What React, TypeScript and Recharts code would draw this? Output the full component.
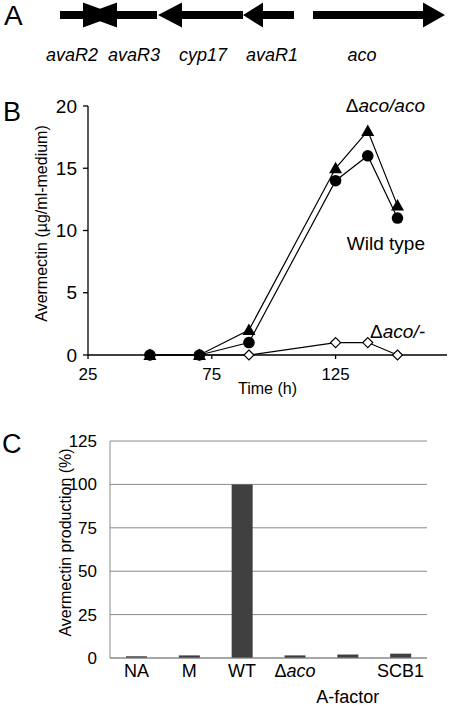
import React from "react"
import { BarChart, Bar, LineChart, Line, XAxis, YAxis, CartesianGrid, Label } from "recharts"

const FONT = '"Liberation Sans", Arial, Helvetica, sans-serif'

// A: gene map, map units along the cluster
const geneNames = ["avaR2", "avaR3", "cyp17", "avaR1", "aco"]
const geneStart = [4, 27, 102, 187, 257]
const geneEnd = [61, 101, 187, 238, 389]
const geneStrand = [1, -1, -1, -1, 1]
const geneLabelPos = [16, 78, 147, 216, 306]

// B: avermectin over time
const hours = [50, 70, 90, 125, 138, 150]
const wildType = [0, 0, 1, 14, 16, 11]
const acoComp = [0, 0, 2, 15, 18, 12]
const acoNull = [0, 0, 0, 1, 1, 0]
const timeTicks = [25, 75, 125]
const avmTicks = [0, 5, 10, 15, 20]

// C: relative production
const strains = ["NA", "M", "WT", "Δaco", "A-factor", "SCB1"]
const production = [1, 1.5, 100, 1.5, 2, 2.5]
const pctTicks = [0, 25, 50, 75, 100, 125]

const headLen = [34, 34, 24, 20, 22]

const mapRow: any = { row: "map" }
geneNames.forEach((g, i) => { mapRow[g] = [geneStart[i], geneEnd[i]] })

const growth = hours.map((h, i) => ({ h, wt: wildType[i], comp: acoComp[i], nul: acoNull[i] }))
const prodData = strains.map((s, i) => ({ s, v: production[i] }))

const arrowShape = (i: number) => (p: any) => {
  const { x, y, width, height } = p
  const cy = y + height / 2
  const left = Math.min(x, x + width)
  const right = Math.max(x, x + width)
  const h = headLen[i], hw = 12.5, sw = 4
  let pts: number[][]
  if (geneStrand[i] > 0) {
    const b = right - h
    pts = [[left, cy - sw], [b, cy - sw], [b, cy - hw], [right, cy], [b, cy + hw], [b, cy + sw], [left, cy + sw]]
  } else {
    const b = left + h
    pts = [[right, cy - sw], [b, cy - sw], [b, cy - hw], [left, cy], [b, cy + hw], [b, cy + sw], [right, cy + sw]]
  }
  return <polygon points={pts.map((q) => q.join(",")).join(" ")} fill="#000" />
}

const GeneTick = (p: any) => {
  const name = geneNames[geneLabelPos.indexOf(p.payload.value)]
  return (
    <text x={p.x} y={p.y + 34} textAnchor="middle" fontSize={18} fontStyle="italic" fill="#000" fontFamily={FONT}>
      {name}
    </text>
  )
}

const StrainTick = (p: any) => {
  const v = p.payload.value as string
  const low = v === "A-factor"
  return (
    <text x={p.x} y={p.y + (low ? 45 : 19)} textAnchor="middle" fontSize={18} fill="#000" fontFamily={FONT}>
      {v.startsWith("Δ") ? (
        <>
          <tspan>Δ</tspan>
          <tspan fontStyle="italic">{v.slice(1)}</tspan>
        </>
      ) : v}
    </text>
  )
}

const circleDot = (p: any) => <circle key={p.index} cx={p.cx} cy={p.cy} r={5.8} fill="#000" />
const triDot = (p: any) => (
  <polygon key={p.index} points={`${p.cx},${p.cy - 6.5} ${p.cx + 6.5},${p.cy + 5} ${p.cx - 6.5},${p.cy + 5}`} fill="#000" />
)
const diaDot = (p: any) => (
  <polygon key={p.index} points={`${p.cx},${p.cy - 5} ${p.cx + 5},${p.cy} ${p.cx},${p.cy + 5} ${p.cx - 5},${p.cy}`} fill="#fff" stroke="#000" strokeWidth={1.2} />
)

const axisB = { stroke: "#000", strokeWidth: 1.3 }
const gray = "#8a8a8a"

export default function App() {
  return (
    <div style={{ position: "absolute", left: 0, top: 0, width: 450, height: 706, overflow: "hidden", fontFamily: FONT, background: "#fff" }}>
      <div style={{ position: "absolute", left: 0, top: 0 }}>
        <BarChart layout="vertical" width={450} height={70} data={[mapRow]} margin={{ top: 3, right: 4, bottom: 0, left: 56 }}>
          <XAxis type="number" domain={[0, 390]} ticks={geneLabelPos} interval={0} height={43} axisLine={false} tickLine={false} tickSize={0} tickMargin={0} tick={<GeneTick />} />
          {geneNames.map((g) => (
            <YAxis key={g} yAxisId={g} type="category" dataKey="row" hide />
          ))}
          {geneNames.map((g, i) => (
            <Bar key={g} yAxisId={g} dataKey={g} barSize={8} shape={arrowShape(i)} isAnimationActive={false} />
          ))}
        </BarChart>
      </div>

      <div style={{ position: "absolute", left: 0, top: 70 }}>
        <LineChart width={450} height={340} data={growth} margin={{ top: 36, right: 3, bottom: 0, left: 28 }}>
          <XAxis dataKey="h" type="number" domain={[25, 170]} ticks={timeTicks} height={55} axisLine={axisB} tickLine={axisB} tickSize={4} tickMargin={9} tick={{ fill: "#000", fontSize: 17 }}>
            <Label value="Time (h)" position="insideBottom" offset={16} fontSize={16} fill="#000" />
          </XAxis>
          <YAxis domain={[0, 20]} ticks={avmTicks} width={60} axisLine={axisB} tickLine={axisB} tickSize={5} tickMargin={6} tick={{ fill: "#000", fontSize: 19 }}>
            <Label value="Avermectin (µg/ml-medium)" angle={-90} position="center" dx={-17} dy={-7} fontSize={16} fill="#000" />
          </YAxis>
          <Line dataKey="nul" stroke="#000" strokeWidth={1.2} dot={diaDot} isAnimationActive={false} />
          <Line dataKey="comp" stroke="#000" strokeWidth={1.2} dot={triDot} isAnimationActive={false} />
          <Line dataKey="wt" stroke="#000" strokeWidth={1.2} dot={circleDot} isAnimationActive={false} />
        </LineChart>
      </div>

      <div style={{ position: "absolute", left: 0, top: 420 }}>
        <BarChart width={450} height={286} data={prodData} margin={{ top: 21, right: 23, bottom: 0, left: 50 }} barSize={21}>
          <CartesianGrid vertical={false} stroke={gray} />
          <XAxis dataKey="s" height={48} interval={0} axisLine={{ stroke: gray }} tickLine={false} tickSize={0} tickMargin={0} tick={<StrainTick />} />
          <YAxis domain={[0, 125]} ticks={pctTicks} width={60} axisLine={{ stroke: gray }} tickLine={false} tickMargin={7} tick={{ fill: "#000", fontSize: 17 }}>
            <Label value="Avermectin production (%)" angle={-90} position="center" dx={-15} dy={-7} fontSize={16} fill="#000" />
          </YAxis>
          <YAxis yAxisId="frame" orientation="right" domain={[0, 125]} width={0} tick={false} tickLine={false} axisLine={{ stroke: gray }} />
          <Bar dataKey="v" fill="#404040" isAnimationActive={false} />
        </BarChart>
      </div>

      <svg width={450} height={706} style={{ position: "absolute", left: 0, top: 0, pointerEvents: "none" }} fontFamily={FONT}>
        <text x={4} y={25} fontSize={28}>A</text>
        <text x={3} y={121} fontSize={27}>B</text>
        <text x={2} y={453} fontSize={27}>C</text>
        <text x={425} y={112} fontSize={19} textAnchor="end">
          <tspan>Δ</tspan>
          <tspan fontStyle="italic">aco/aco</tspan>
        </text>
        <text x={425} y={250} fontSize={19} textAnchor="end">Wild type</text>
        <text x={425} y={338} fontSize={19} textAnchor="end">
          <tspan>Δ</tspan>
          <tspan fontStyle="italic">aco/-</tspan>
        </text>
      </svg>
    </div>
  )
}
